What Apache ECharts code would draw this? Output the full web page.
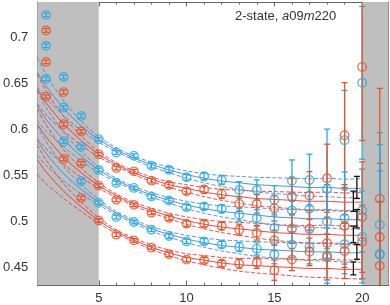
<!DOCTYPE html>
<html><head><meta charset="utf-8">
<script src="https://cdn.jsdelivr.net/npm/echarts@6/dist/echarts.min.js"></script>
<style>html,body{margin:0;padding:0;background:#fff}#c{width:390px;height:305px}</style>
</head><body><div id="c"></div>
<script>
// time slices of the data points
const tPoints = [2,3,4,5,6,7,8,9,10,11,12,13,14,15,16,17,18,19,20,21];
// cyan series (top, middle, bottom) and red series (top, middle, bottom)
const c1 = [0.7245,0.657,0.6146,0.5895,0.575,0.5714,0.5606,0.5563,0.548,0.5491,0.5451,0.5343,0.5343,0.5235,0.5444,0.5451,0.5354,0.5884,0.6507,0.4965];
const r1 = [0.7076,0.6406,0.5978,0.5732,0.558,0.5545,0.5444,0.5397,0.5329,0.5347,0.530,0.5192,0.5192,0.5145,0.5271,0.5282,0.547,0.5938,0.668,0.5246];
const c2 = [0.691,0.6238,0.5811,0.556,0.5419,0.5365,0.5271,0.5228,0.5156,0.5163,0.5138,0.5073,0.5037,0.4929,0.512,0.5138,0.5001,0.5037,0.512,0.465];
const r2 = [0.6734,0.6057,0.5632,0.539,0.5235,0.5181,0.5095,0.5037,0.4976,0.4976,0.4951,0.4911,0.4878,0.4795,0.4922,0.4918,0.4767,0.4951,0.5048,0.4832];
const c3 = [0.655,0.587,0.5437,0.5203,0.5048,0.4994,0.4911,0.4843,0.4784,0.4784,0.4749,0.4724,0.4705,0.4641,0.4749,0.472,0.463,0.4752,0.4832,0.4635];
const r3 = [0.6357,0.568,0.5254,0.5011,0.4857,0.4795,0.4716,0.4644,0.4586,0.4579,0.4543,0.4543,0.4551,0.4471,0.4586,0.467,0.4615,0.468,0.4778,0.4518];
// error bars
const c1Err = [0.002,0.002,0.002,0.002,0.002,0.002,0.0025,0.003,0.003,0.004,0.005,0.009,0.011,0.0155,0.0225,0.028,0.065,0.054,0.083,0.10];
const r1Err = [0.002,0.002,0.002,0.002,0.002,0.002,0.0025,0.003,0.003,0.004,0.005,0.008,0.010,0.014,0.02,0.026,0.037,0.057,0.08,0.12];
const c2Err = [0.002,0.002,0.002,0.002,0.002,0.002,0.0025,0.0025,0.003,0.0035,0.0045,0.007,0.009,0.013,0.018,0.023,0.04,0.05,0.045,0.09];
const r2Err = [0.002,0.002,0.002,0.002,0.002,0.002,0.002,0.0025,0.003,0.0035,0.004,0.006,0.008,0.011,0.016,0.02,0.028,0.045,0.06,0.08];
const c3Err = [0.002,0.002,0.002,0.002,0.002,0.002,0.002,0.0025,0.0025,0.003,0.0035,0.005,0.007,0.01,0.014,0.018,0.03,0.032,0.05,0.12];
const r3Err = [0.002,0.002,0.002,0.002,0.002,0.002,0.002,0.0025,0.0025,0.003,0.0035,0.005,0.006,0.011,0.012,0.015,0.025,0.03,0.04,0.07];
// 2-state fit curves (central values) and band half-widths
const fitX = [1.5,2,3,4,5,6,7,8,9,10,11,12,13,14,15,16,17,18,19,20];
const c1Fit = [0.662,0.647,0.623,0.604,0.589,0.578,0.569,0.562,0.556,0.551,0.547,0.544,0.542,0.540,0.539,0.538,0.537,0.537,0.536,0.536];
const r1Fit = [0.644,0.629,0.606,0.588,0.573,0.562,0.553,0.546,0.540,0.536,0.532,0.529,0.527,0.525,0.524,0.523,0.522,0.522,0.521,0.521];
const c2Fit = [0.626,0.611,0.589,0.571,0.556,0.545,0.536,0.529,0.523,0.518,0.514,0.511,0.509,0.507,0.505,0.504,0.503,0.503,0.502,0.502];
const r2Fit = [0.606,0.592,0.570,0.553,0.539,0.528,0.519,0.512,0.506,0.501,0.497,0.494,0.492,0.490,0.488,0.487,0.486,0.486,0.485,0.485];
const c3Fit = [0.588,0.574,0.552,0.535,0.521,0.509,0.500,0.492,0.486,0.481,0.477,0.474,0.472,0.470,0.469,0.468,0.467,0.467,0.466,0.466];
const r3Fit = [0.567,0.554,0.533,0.516,0.501,0.489,0.480,0.472,0.466,0.461,0.458,0.455,0.453,0.452,0.451,0.450,0.449,0.449,0.448,0.448];
const fitBand = [0.016,0.013,0.008,0.005,0.003,0.002,0.002,0.0025,0.003,0.004,0.005,0.006,0.007,0.008,0.0085,0.009,0.0095,0.010,0.010,0.0105];
// ground-state results (black bars)
const e0X = [19.7,19.5,19.7,19.5,19.7,19.5];
const e0Val = [0.537,0.522,0.503,0.486,0.467,0.449];
const e0Err = [0.012,0.011,0.010,0.009,0.008,0.007];
// excluded regions
const shadeRanges = [[1.5,5],[20,21.5]];
const xRange = [1.5,21.5];
const yRange = [0.431,0.7385];

const CYAN = '#2aabe0', RED = '#e5552b', BLUE = '#3a84e4', FRED = '#ee3030';
const groups = [
  {v:c1,e:c1Err,f:c1Fit,pc:CYAN,lc:BLUE},
  {v:r1,e:r1Err,f:r1Fit,pc:RED,lc:FRED},
  {v:c2,e:c2Err,f:c2Fit,pc:CYAN,lc:BLUE},
  {v:r2,e:r2Err,f:r2Fit,pc:RED,lc:FRED},
  {v:c3,e:c3Err,f:c3Fit,pc:CYAN,lc:BLUE},
  {v:r3,e:r3Err,f:r3Fit,pc:RED,lc:FRED}
];

function errRenderer(color){
  return function(params, api){
    const x = api.value(0), y = api.value(1), e = api.value(2);
    const t = api.coord([x, y+e]), b = api.coord([x, y-e]);
    const hw = 3;
    const st = {stroke: color, lineWidth: 1.3};
    return {type:'group', children:[
      {type:'line', shape:{x1:t[0],y1:t[1],x2:b[0],y2:b[1]}, style:st},
      {type:'line', shape:{x1:t[0]-hw,y1:t[1],x2:t[0]+hw,y2:t[1]}, style:st},
      {type:'line', shape:{x1:b[0]-hw,y1:b[1],x2:b[0]+hw,y2:b[1]}, style:st}
    ]};
  };
}

const series = [];
series.push({type:'line', data:[], z:0, silent:true,
  markArea:{silent:true, itemStyle:{color:'#bfbfbf'},
    data: shadeRanges.map(r => [{xAxis:r[0]},{xAxis:r[1]}])}});

groups.forEach(g => {
  const center = fitX.map((x,i)=>[x, g.f[i]]);
  const up = fitX.map((x,i)=>[x, g.f[i]+fitBand[i]]);
  const lo = fitX.map((x,i)=>[x, g.f[i]-fitBand[i]]);
  series.push({type:'line', data:center, smooth:0.3, showSymbol:false, silent:true, z:2,
    lineStyle:{color:g.lc, width:1, opacity:0.9}});
  [up, lo].forEach(d => series.push({type:'line', data:d, smooth:0.3, showSymbol:false, silent:true, z:2,
    lineStyle:{color:g.lc, width:1, type:[4,2], opacity:0.85}}));
});
groups.forEach(g => {
  series.push({type:'custom', renderItem: errRenderer(g.pc), clip:true, z:3,
    encode:{x:0, y:1}, data: tPoints.map((t,i)=>[t, g.v[i], g.e[i]])});
  series.push({type:'scatter', symbol:'circle', symbolSize:8.5, z:4, clip:true,
    itemStyle:{color:'rgba(0,0,0,0)', borderColor:g.pc, borderWidth:1.4},
    data: tPoints.map((t,i)=>[t, g.v[i]])});
});
series.push({type:'custom', renderItem: errRenderer('#111'), clip:true, z:5,
  encode:{x:0, y:1}, data: e0X.map((x,i)=>[x, e0Val[i], e0Err[i]])});

const axisCol = '#666';
function xAx(pos, labels){
  return {type:'value', min:xRange[0], max:xRange[1], splitNumber:4, position:pos,
    axisLine:{show:true, onZero:false, lineStyle:{color:axisCol, width:1}},
    axisTick:{show:true, inside:true, length:4.5, lineStyle:{color:axisCol}},
    minorTick:{show:true, splitNumber:5, length:2.5, lineStyle:{color:axisCol}},
    splitLine:{show:false}, minorSplitLine:{show:false},
    axisLabel:{show:labels, showMinLabel:false, showMaxLabel:false, color:'#333',
      fontSize:13, fontFamily:'Liberation Sans', margin:7}};
}
function yAx(pos, labels){
  return {type:'value', min:yRange[0], max:yRange[1], splitNumber:5, position:pos,
    axisLine:{show:true, onZero:false, lineStyle:{color:axisCol, width:1}},
    axisTick:{show:true, inside:true, length:4.5, lineStyle:{color:axisCol}},
    minorTick:{show:true, splitNumber:5, length:2.5, lineStyle:{color:axisCol}},
    splitLine:{show:false}, minorSplitLine:{show:false},
    axisLabel:{show:labels, showMinLabel:false, showMaxLabel:false, color:'#333',
      fontSize:13, fontFamily:'Liberation Sans', margin:9}};
}

const chart = echarts.init(document.getElementById('c'), null, {renderer:'canvas'});
chart.setOption({
  animation:false,
  backgroundColor:'#fff',
  grid:{left:33.5, right:1.5, top:2, bottom:18, containLabel:false},
  xAxis:[xAx('bottom', true), xAx('top', false)],
  yAxis:[yAx('left', true), yAx('right', false)],
  graphic:[{type:'text', left:235, top:10, z:10, style:{
    text:'{n|2-state, }{i|a}{n|09}{i|m}{n|220}',
    rich:{n:{fontSize:13, fontFamily:'Liberation Sans', fill:'#333'},
          i:{fontSize:13, fontFamily:'Liberation Sans', fontStyle:'italic', fill:'#333'}}}}],
  series: series
});
</script></body></html>
